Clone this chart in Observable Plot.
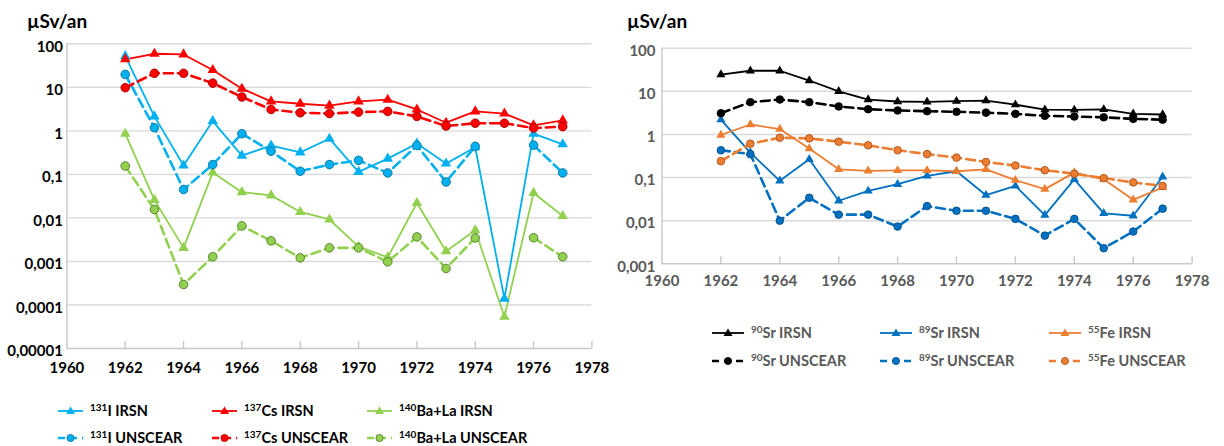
<!DOCTYPE html>
<html>
<head>
<meta charset="utf-8">
<script src="https://cdn.jsdelivr.net/npm/d3@7"></script>
<script src="https://cdn.jsdelivr.net/npm/@observablehq/plot@0.6"></script>
<style>
  body { margin: 0; background: #fff; font-family: Lato, "Open Sans", sans-serif; }
  #wrap { position: relative; width: 1224px; height: 446px; overflow: hidden; }
  .title { position: absolute; top: 11px; font-weight: bold; font-size: 19px; line-height: 19px; color: #000; }
  .chart { position: absolute; top: 30px; }
  .item { position: absolute; display: flex; align-items: center; white-space: nowrap; font-weight: bold; font-size: 14.5px; line-height: 16px; }
  .item svg { margin-right: 3px; }
  .item sup { font-size: 10px; position: relative; top: -1px; vertical-align: top; line-height: 10px; }
</style>
</head>
<body>
<div id="wrap">
  <div class="title" style="left:27px">µSv/an</div>
  <div class="title" style="left:627px">µSv/an</div>
  <div id="left" class="chart" style="left:0px"></div>
  <div id="right" class="chart" style="left:612px"></div>
  <div id="legendLeft"></div>
  <div id="legendRight"></div>
</div>
<script>
// ---------- data ----------
const years = [1962, 1963, 1964, 1965, 1966, 1967, 1968, 1969, 1970, 1971, 1972, 1973, 1974, 1975, 1976, 1977];
const xTicks = [1960, 1962, 1964, 1966, 1968, 1970, 1972, 1974, 1976, 1978];
const xTickLabels = ["1960", "1962", "1964", "1966", "1968", "1970", "1972", "1974", "1976", "1978"];

// left chart (131I, 137Cs, 140Ba+La)
const i131IRSN     = [52, 2.15, 0.16, 1.68, 0.27, 0.46, 0.32, 0.66, 0.114, 0.23, 0.51, 0.177, 0.42, 0.00014, 0.86, 0.49];
const i131UNSCEAR  = [19.8, 1.18, 0.045, 0.168, 0.86, 0.34, 0.118, 0.168, 0.21, 0.108, 0.46, 0.067, 0.44, null, 0.47, 0.108];
const cs137IRSN    = [44, 59, 57, 25, 9.3, 4.75, 4.2, 3.8, 4.75, 5.2, 3.1, 1.54, 2.8, 2.5, 1.34, 1.74];
const cs137UNSCEAR = [9.8, 21, 21, 12.5, 6.0, 3.1, 2.6, 2.5, 2.7, 2.8, 2.15, 1.29, 1.5, 1.5, 1.16, 1.25];
const ba140IRSN    = [0.86, 0.026, 0.00205, 0.11, 0.039, 0.033, 0.0137, 0.0092, 0.0022, 0.00124, 0.022, 0.00172, 0.0052, 0.0000537, 0.0375, 0.0111];
const ba140UNSCEAR = [0.156, 0.0156, 0.000296, 0.00128, 0.00656, 0.00297, 0.00121, 0.00205, 0.00205, 0.00098, 0.00366, 0.00069, 0.00347, null, 0.0035, 0.00128];
const leftYTicks  = [0.00001, 0.0001, 0.001, 0.01, 0.1, 1, 10, 100];
const leftYLabels = ["0,00001", "0,0001", "0,001", "0,01", "0,1", "1", "10", "100"];
const leftLegend = [
  ["131", "I IRSN"], ["137", "Cs IRSN"], ["140", "Ba+La IRSN"],
  ["131", "I UNSCEAR"], ["137", "Cs UNSCEAR"], ["140", "Ba+La UNSCEAR"]
];

// right chart (90Sr, 89Sr, 55Fe)
const sr90IRSN    = [24.5, 30, 30, 17.8, 10, 6.45, 5.8, 5.7, 5.9, 6.1, 4.9, 3.75, 3.7, 3.8, 3.0, 2.9];
const sr90UNSCEAR = [3.1, 5.6, 6.45, 5.6, 4.45, 3.85, 3.6, 3.46, 3.35, 3.2, 3.0, 2.7, 2.6, 2.5, 2.3, 2.2];
const sr89IRSN    = [2.2, 0.38, 0.084, 0.265, 0.029, 0.049, 0.070, 0.11, 0.14, 0.039, 0.064, 0.0135, 0.091, 0.0148, 0.013, 0.104];
const sr89UNSCEAR = [0.43, 0.35, 0.010, 0.034, 0.0138, 0.0138, 0.0073, 0.0218, 0.017, 0.017, 0.011, 0.0045, 0.011, 0.0023, 0.0056, 0.019];
const fe55IRSN    = [0.97, 1.7, 1.33, 0.47, 0.155, 0.143, 0.146, 0.146, 0.14, 0.155, 0.087, 0.054, 0.13, 0.091, 0.0305, 0.059];
const fe55UNSCEAR = [0.24, 0.61, 0.84, 0.81, 0.68, 0.56, 0.43, 0.35, 0.29, 0.23, 0.19, 0.148, 0.123, 0.097, 0.077, 0.064];
const rightYTicks  = [0.001, 0.01, 0.1, 1, 10, 100];
const rightYLabels = ["0,001", "0,01", "0,1", "1", "10", "100"];
const rightLegend = [
  ["90", "Sr IRSN"], ["89", "Sr IRSN"], ["55", "Fe IRSN"],
  ["90", "Sr UNSCEAR"], ["89", "Sr UNSCEAR"], ["55", "Fe UNSCEAR"]
];

// ---------- styles ----------
const leftSeries = [
  {values: i131IRSN,     color: "#00B0F0", dark: "#0a86b8", dashed: false},
  {values: cs137IRSN,    color: "#FF0000", dark: "#b00000", dashed: false},
  {values: ba140IRSN,    color: "#92D050", dark: "#5f8f2e", dashed: false},
  {values: i131UNSCEAR,  color: "#00B0F0", dark: "#0a6f98", dashed: true},
  {values: cs137UNSCEAR, color: "#FF0000", dark: "#a00000", dashed: true},
  {values: ba140UNSCEAR, color: "#92D050", dark: "#4f7a25", dashed: true}
];
const rightSeries = [
  {values: sr90IRSN,    color: "#000000", dark: "#000000", dashed: false},
  {values: sr89IRSN,    color: "#0070C0", dark: "#004f8a", dashed: false},
  {values: fe55IRSN,    color: "#ED7D31", dark: "#b85a1c", dashed: false},
  {values: sr90UNSCEAR, color: "#000000", dark: "#000000", dashed: true},
  {values: sr89UNSCEAR, color: "#0070C0", dark: "#004f8a", dashed: true},
  {values: fe55UNSCEAR, color: "#ED7D31", dark: "#a8541c", dashed: true}
];

function makeChart(cfg) {
  const ymin = cfg.yTicks[0], ymax = cfg.yTicks[cfg.yTicks.length - 1];
  const marks = [
    Plot.ruleY(cfg.yTicks.slice(1), {stroke: "#d9d9d9", strokeWidth: 1.4}),
    Plot.ruleX([xTicks[0]], {stroke: "#c8c8c8", strokeWidth: 1.4}),
    Plot.ruleY([ymin], {stroke: "#c8c8c8", strokeWidth: 1.4}),
    Plot.ruleX(xTicks.slice(1), {y1: ymin, y2: ymin, insetBottom: 7, stroke: "#c8c8c8", strokeWidth: 1.4})
  ];
  const datasets = cfg.series.map(s => years.map((y, i) => ({year: y, v: s.values[i]})));
  cfg.series.forEach((s, k) => {
    marks.push(Plot.line(datasets[k], {
      x: "year", y: "v", stroke: s.color,
      strokeWidth: s.dashed ? cfg.dashW : cfg.solidW,
      strokeDasharray: s.dashed ? "9,5" : null
    }));
  });
  cfg.series.forEach((s, k) => {
    marks.push(Plot.dot(datasets[k].filter(d => d.v != null), {
      x: "year", y: "v",
      symbol: s.dashed ? "circle" : "triangle",
      r: s.dashed ? cfg.circleR : cfg.triR,
      fill: s.color,
      stroke: s.dashed ? s.dark : "none",
      strokeWidth: 0.9
    }));
  });
  marks.push(Plot.text(cfg.yTicks, {
    x: xTicks[0], y: d => d, text: (d, i) => cfg.yLabels[i],
    textAnchor: "end", dx: -cfg.yPad, dy: 3, fill: cfg.textColor, fontSize: 15, fontWeight: "bold"
  }));
  marks.push(Plot.text(xTicks, {
    x: d => d, y: ymin, text: (d, i) => xTickLabels[i],
    dy: cfg.xDy, fill: cfg.textColor, fontSize: 15, fontWeight: "bold"
  }));
  return Plot.plot({
    width: cfg.width, height: cfg.height,
    marginLeft: cfg.ml, marginRight: cfg.mr, marginTop: cfg.mt, marginBottom: cfg.mb,
    x: {domain: [xTicks[0], xTicks[xTicks.length - 1]], axis: null},
    y: {type: "log", domain: [ymin, ymax], axis: null},
    style: {fontFamily: "Lato, 'Open Sans', sans-serif", fontSize: "15px", fontWeight: "bold", background: "transparent", overflow: "visible"},
    marks
  });
}

document.getElementById("left").append(makeChart({
  series: leftSeries, yTicks: leftYTicks, yLabels: leftYLabels,
  width: 612, height: 352, ml: 66.4, mr: 20.6, mt: 13.3, mb: 34,
  textColor: "#000", yPad: 4, xDy: 20, solidW: 1.8, dashW: 2.6, circleR: 4.3, triR: 3.9
}));
document.getElementById("right").append(makeChart({
  series: rightSeries, yTicks: rightYTicks, yLabels: rightYLabels,
  width: 612, height: 268, ml: 49.5, mr: 32.4, mt: 17.7, mb: 34.7,
  textColor: "#595959", yPad: 6.5, xDy: 17, solidW: 1.8, dashW: 2.6, circleR: 3.8, triR: 3.4
}));

// ---------- legends ----------
function legend(containerId, labels, series, cols, rows, lineW, textColor) {
  const box = document.getElementById(containerId);
  series.forEach((s, k) => {
    const col = k % 3, row = Math.floor(k / 3);
    const item = document.createElement("div");
    item.className = "item";
    item.style.left = cols[col] + "px";
    item.style.top = (rows[row] - 8) + "px";
    item.style.color = textColor;
    const ns = "http://www.w3.org/2000/svg";
    const svg = document.createElementNS(ns, "svg");
    svg.setAttribute("width", lineW + 4);
    svg.setAttribute("height", 12);
    const line = document.createElementNS(ns, "line");
    line.setAttribute("x1", 0); line.setAttribute("x2", lineW);
    line.setAttribute("y1", 6); line.setAttribute("y2", 6);
    line.setAttribute("stroke", s.color);
    line.setAttribute("stroke-width", s.dashed ? 2.6 : 1.8);
    if (s.dashed) line.setAttribute("stroke-dasharray", "7,5");
    svg.append(line);
    const cx = lineW / 2;
    if (s.dashed) {
      const c = document.createElementNS(ns, "circle");
      c.setAttribute("cx", cx); c.setAttribute("cy", 6); c.setAttribute("r", 3.6);
      c.setAttribute("fill", s.color); c.setAttribute("stroke", s.dark); c.setAttribute("stroke-width", 0.8);
      svg.append(c);
    } else {
      const p = document.createElementNS(ns, "path");
      p.setAttribute("d", `M${cx},1.5L${cx + 4.5},9L${cx - 4.5},9Z`);
      p.setAttribute("fill", s.color);
      svg.append(p);
    }
    item.append(svg);
    const span = document.createElement("span");
    const sup = document.createElement("sup");
    sup.textContent = labels[k][0];
    span.append(sup, document.createTextNode(labels[k][1]));
    item.append(span);
    box.append(item);
  });
}
legend("legendLeft", leftLegend, leftSeries, [58, 212, 367], [411, 438], 25, "#000");
legend("legendRight", rightLegend, rightSeries, [712, 880, 1049], [333, 361], 32, "#595959");
</script>
</body>
</html>
